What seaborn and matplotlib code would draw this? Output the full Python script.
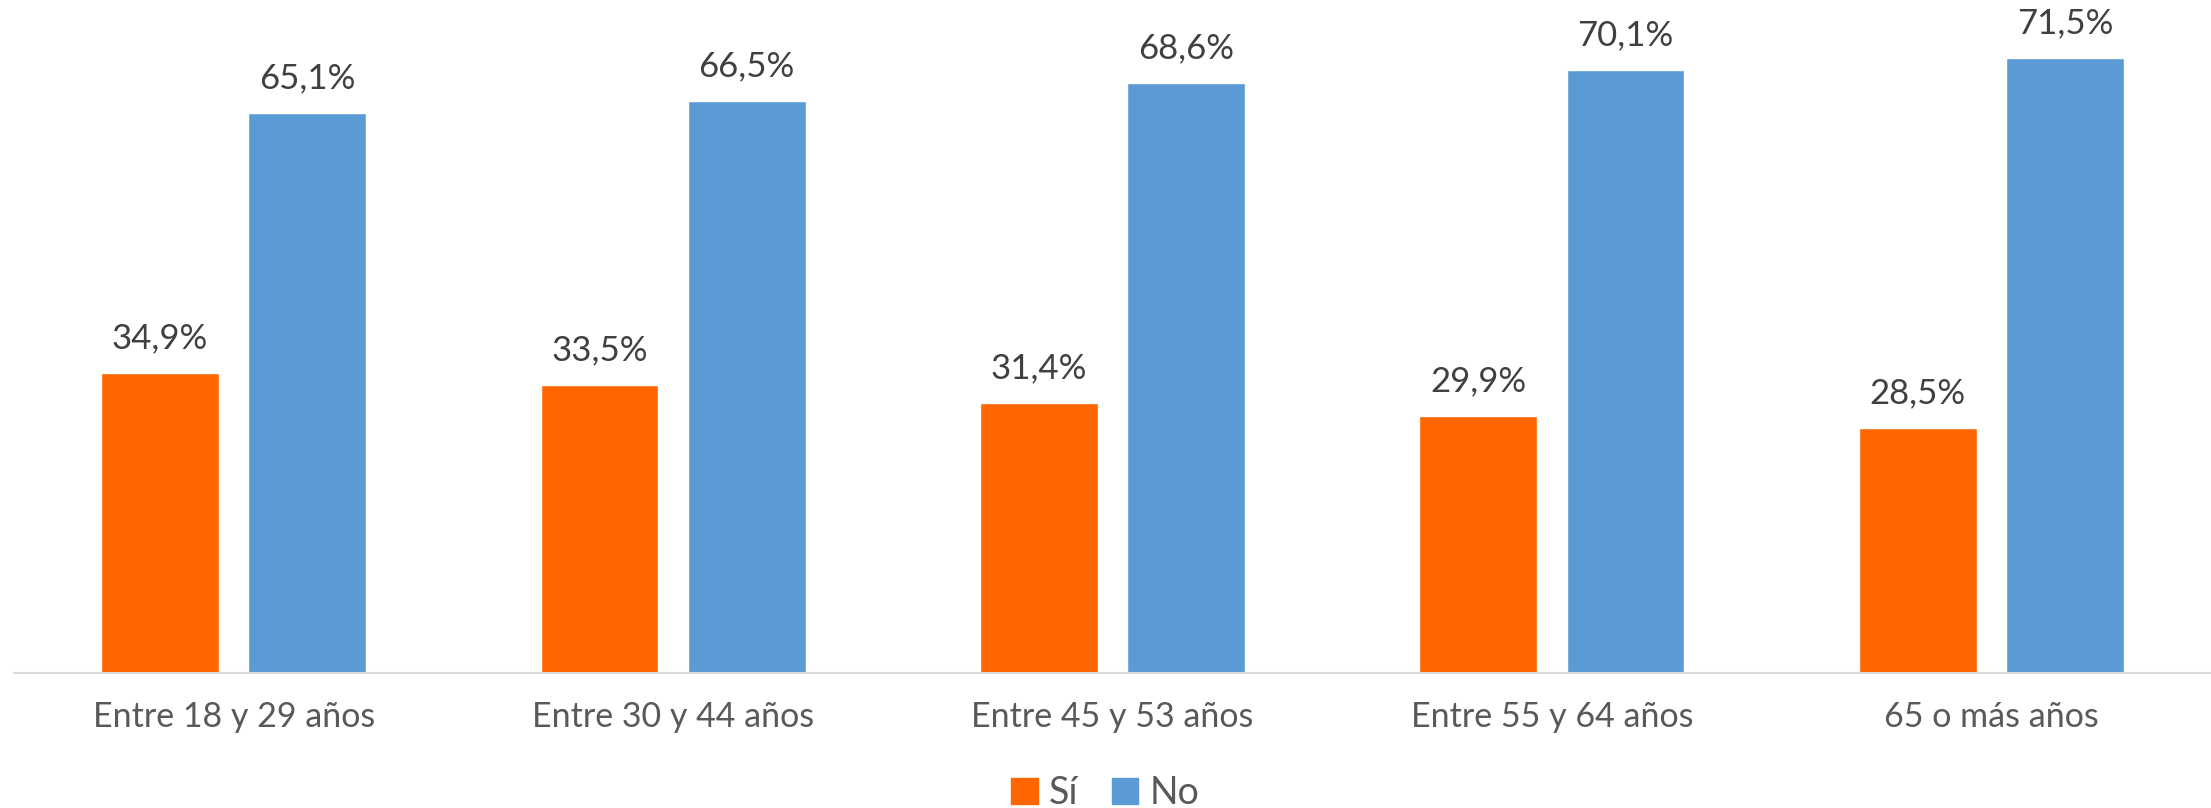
import numpy as np
import pandas as pd
import matplotlib.pyplot as plt
import seaborn as sns

# age groups and answers (percent)
grupos = ['Entre 18 y 29 años', 'Entre 30 y 44 años', 'Entre 45 y 53 años',
          'Entre 55 y 64 años', '65 o más años']
si = [34.9, 33.5, 31.4, 29.9, 28.5]
no = [65.1, 66.5, 68.6, 70.1, 71.5]
series = ['Sí', 'No']
colores = ['#FF6600', '#5B9BD5']

df = pd.DataFrame({
    'grupo': grupos * 2,
    'respuesta': ['Sí'] * len(grupos) + ['No'] * len(grupos),
    'valor': si + no,
})

sns.set_style('white')
plt.rcParams['font.family'] = ['Lato', 'DejaVu Sans']

fig = plt.figure(figsize=(22.11, 8.08), dpi=100)
ax = fig.add_axes([14 / 2211, 1 - 673 / 808, 1 - 14 / 2211, 673 / 808])

sns.barplot(data=df, x='grupo', y='valor', hue='respuesta', hue_order=series,
            palette=colores, width=0.67, gap=0.2, saturation=1,
            legend=False, ax=ax)

# value labels above each bar
for cont in ax.containers:
    ax.bar_label(cont, labels=[f'{v:.1f}%'.replace('.', ',') for v in cont.datavalues],
                 padding=13, fontsize=25, color='#404040')

ax.set_ylim(0, 78.2)
ax.set_xlim(-0.5, 4.5)
ax.set_xlabel('')
ax.set_ylabel('')
ax.set_yticks([])
ax.tick_params(axis='x', length=0, pad=20, labelsize=24.5, labelcolor='#595959')
for s in ['top', 'right', 'left']:
    ax.spines[s].set_visible(False)
ax.spines['bottom'].set_color('#D9D9D9')
ax.spines['bottom'].set_linewidth(1.5)

# legend at the bottom
handles = [plt.Rectangle((0, 0), 1, 1, color=c) for c in colores]
fig.legend(handles, series, loc='center', bbox_to_anchor=(0.5, 1 - 793 / 808),
           ncol=2, frameon=False, fontsize=27, handlelength=0.7, handleheight=0.7,
           handletextpad=0.3, columnspacing=0.9, labelcolor='#595959')

fig.savefig('out.png', dpi=100)
